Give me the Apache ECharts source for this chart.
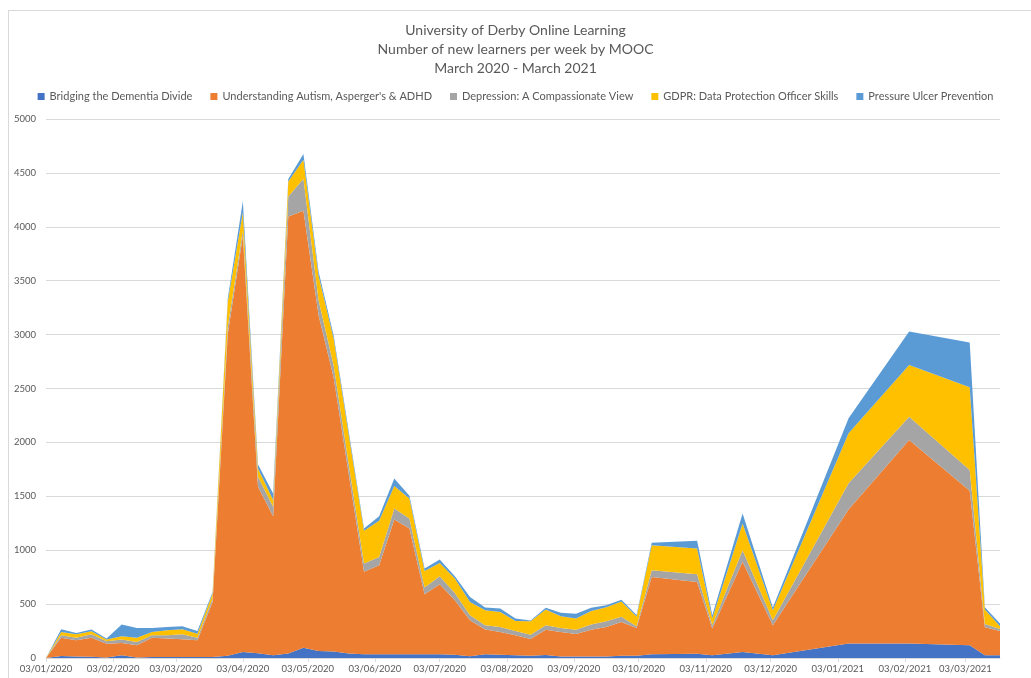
<!DOCTYPE html>
<html>
<head>
<meta charset="utf-8">
<script src="https://cdn.jsdelivr.net/npm/echarts/dist/echarts.min.js"></script>
<style>
html,body{margin:0;padding:0;background:#fff;overflow:hidden;width:1031px;height:678px}
#frame{position:absolute;left:8px;top:10px;width:1100px;height:800px;border:1px solid #d9d9d9;box-sizing:border-box}
#chart{position:absolute;left:0;top:0;width:1031px;height:678px}
</style>
</head>
<body>
<div id="frame"></div>
<div id="chart"></div>
<script>
// Weekly dates (Fridays); some weeks are missing in the source
const weekDates = [
  '2020-01-03','2020-01-10','2020-01-17','2020-01-24','2020-01-31',
  '2020-02-07','2020-02-14','2020-02-21','2020-02-28',
  '2020-03-06','2020-03-13','2020-03-20','2020-03-27',
  '2020-04-03','2020-04-10','2020-04-17','2020-04-24',
  '2020-05-01','2020-05-08','2020-05-15','2020-05-22','2020-05-29',
  '2020-06-05','2020-06-12','2020-06-19','2020-06-26',
  '2020-07-03','2020-07-10','2020-07-17','2020-07-24','2020-07-31',
  '2020-08-07','2020-08-14','2020-08-21','2020-08-28',
  '2020-09-04','2020-09-11','2020-09-18','2020-09-25',
  '2020-10-02','2020-10-09','2020-10-30',
  '2020-11-06','2020-11-20','2020-12-04',
  '2021-01-08','2021-02-05','2021-03-05','2021-03-12','2021-03-19'
];

const seriesNames = [
  'Bridging the Dementia Divide',
  "Understanding Autism, Asperger's & ADHD",
  'Depression: A Compassionate View',
  'GDPR: Data Protection Officer Skills',
  'Pressure Ulcer Prevention'
];

const dementia = [0,19,15,12,5,25,5,10,10,10,10,10,20,56,45,25,41,96,65,60,41,34,34,34,34,34,34,30,16,34,30,25,20,27,15,15,15,15,20,20,34,40,25,56,25,134,134,118,25,25];
const autism   = [0,170,149,177,128,115,113,179,170,164,154,510,2980,3860,1543,1291,4055,4053,3115,2540,1659,765,827,1251,1168,558,650,506,334,230,211,186,157,236,226,207,248,272,315,259,718,666,248,836,279,1244,1888,1433,260,225];
const depression = [0,22,25,31,22,31,31,22,31,46,25,32,70,50,93,87,186,297,140,110,90,78,77,102,92,62,75,68,47,40,47,40,38,41,38,41,47,53,48,15,63,71,31,108,46,242,216,192,30,20];
const gdpr     = [0,31,31,28,16,31,40,31,46,47,37,46,230,170,78,62,139,176,225,250,275,303,335,208,186,154,123,133,123,139,139,93,126,147,109,104,126,130,142,91,232,239,62,248,93,464,480,768,135,25];
const pressure = [0,25,12,16,9,108,90,37,31,27,25,15,30,100,37,62,22,53,40,30,30,22,43,71,25,22,32,22,47,25,32,22,6,16,32,43,31,20,15,15,21,71,31,93,25,139,310,415,20,25];

const xTickLabels = ['03/01/2020','03/02/2020','03/03/2020','03/04/2020','03/05/2020','03/06/2020','03/07/2020','03/08/2020','03/09/2020','03/10/2020','03/11/2020','03/12/2020','03/01/2021','03/02/2021','03/03/2021'];
const yTicks = [0,500,1000,1500,2000,2500,3000,3500,4000,4500,5000];

const colors = ['#4472C4','#ED7D31','#A5A5A5','#FFC000','#5B9BD5'];

function parseISO(s){ const p=s.split('-').map(Number); return Date.UTC(p[0],p[1]-1,p[2]); }
function parseUK(s){ const p=s.split('/').map(Number); return Date.UTC(p[2],p[1]-1,p[0]); }
function pad(n){ return (n<10?'0':'')+n; }
function fmtUK(v){ const d=new Date(v); return pad(d.getUTCDate())+'/'+pad(d.getUTCMonth()+1)+'/'+d.getUTCFullYear(); }

const xs = weekDates.map(parseISO);
const tickVals = xTickLabels.map(parseUK);
const allData = [dementia, autism, depression, gdpr, pressure];

const chart = echarts.init(document.getElementById('chart'), null, {renderer:'canvas'});
const font = 'Lato, "Open Sans", sans-serif';
chart.setOption({
  animation:false,
  backgroundColor:'transparent',
  color: colors,
  title: {
    text: 'University of Derby Online Learning\nNumber of new learners per week by MOOC\nMarch 2020 - March 2021',
    left: 'center', top: 16,
    textStyle: {fontFamily: font, fontSize: 14, fontWeight: 'normal', color: '#595959', lineHeight: 19}
  },
  legend: {
    top: 86, left: 'center',
    icon: 'rect', itemWidth: 7, itemHeight: 7, itemGap: 18,
    textStyle: {fontFamily: font, fontSize: 11, color: '#595959'},
    data: seriesNames
  },
  grid: {left: 46, right: 31, top: 119, bottom: 20, containLabel: false},
  xAxis: [{
    // data axis (time scale) – drawn plainly
    type: 'time',
    min: xs[0], max: xs[xs.length-1],
    axisLine: {show: true, lineStyle: {color: '#d9d9d9', width: 1}},
    axisTick: {show: false},
    axisLabel: {show: false},
    splitLine: {show: false}
  }, {
    // label axis: same extent, ticks on the 3rd of each month
    type: 'value', position: 'bottom',
    min: xs[0], max: xs[xs.length-1],
    axisLine: {show: false},
    axisTick: {show: true, customValues: tickVals, length: 4, lineStyle: {color: '#d9d9d9'}},
    axisLabel: {customValues: tickVals, formatter: fmtUK, color: '#595959', fontFamily: font, fontSize: 9.5, margin: 6, showMinLabel: true, showMaxLabel: true, hideOverlap: false},
    splitLine: {show: false}
  }],
  yAxis: {
    type: 'value', min: yTicks[0], max: yTicks[yTicks.length-1], interval: 500,
    axisLine: {show: false}, axisTick: {show: false},
    axisLabel: {color: '#595959', fontFamily: font, fontSize: 9.5, margin: 10, formatter: v => String(v)},
    splitLine: {lineStyle: {color: '#d9d9d9', width: 1}}
  },
  series: seriesNames.map((name, i) => ({
    name: name,
    type: 'line',
    xAxisIndex: 0,
    stack: 'total',
    symbol: 'none',
    lineStyle: {width: 0},
    areaStyle: {opacity: 1, color: colors[i]},
    itemStyle: {color: colors[i]},
    data: xs.map((x, j) => [x, allData[i][j]])
  }))
});
</script>
</body>
</html>
